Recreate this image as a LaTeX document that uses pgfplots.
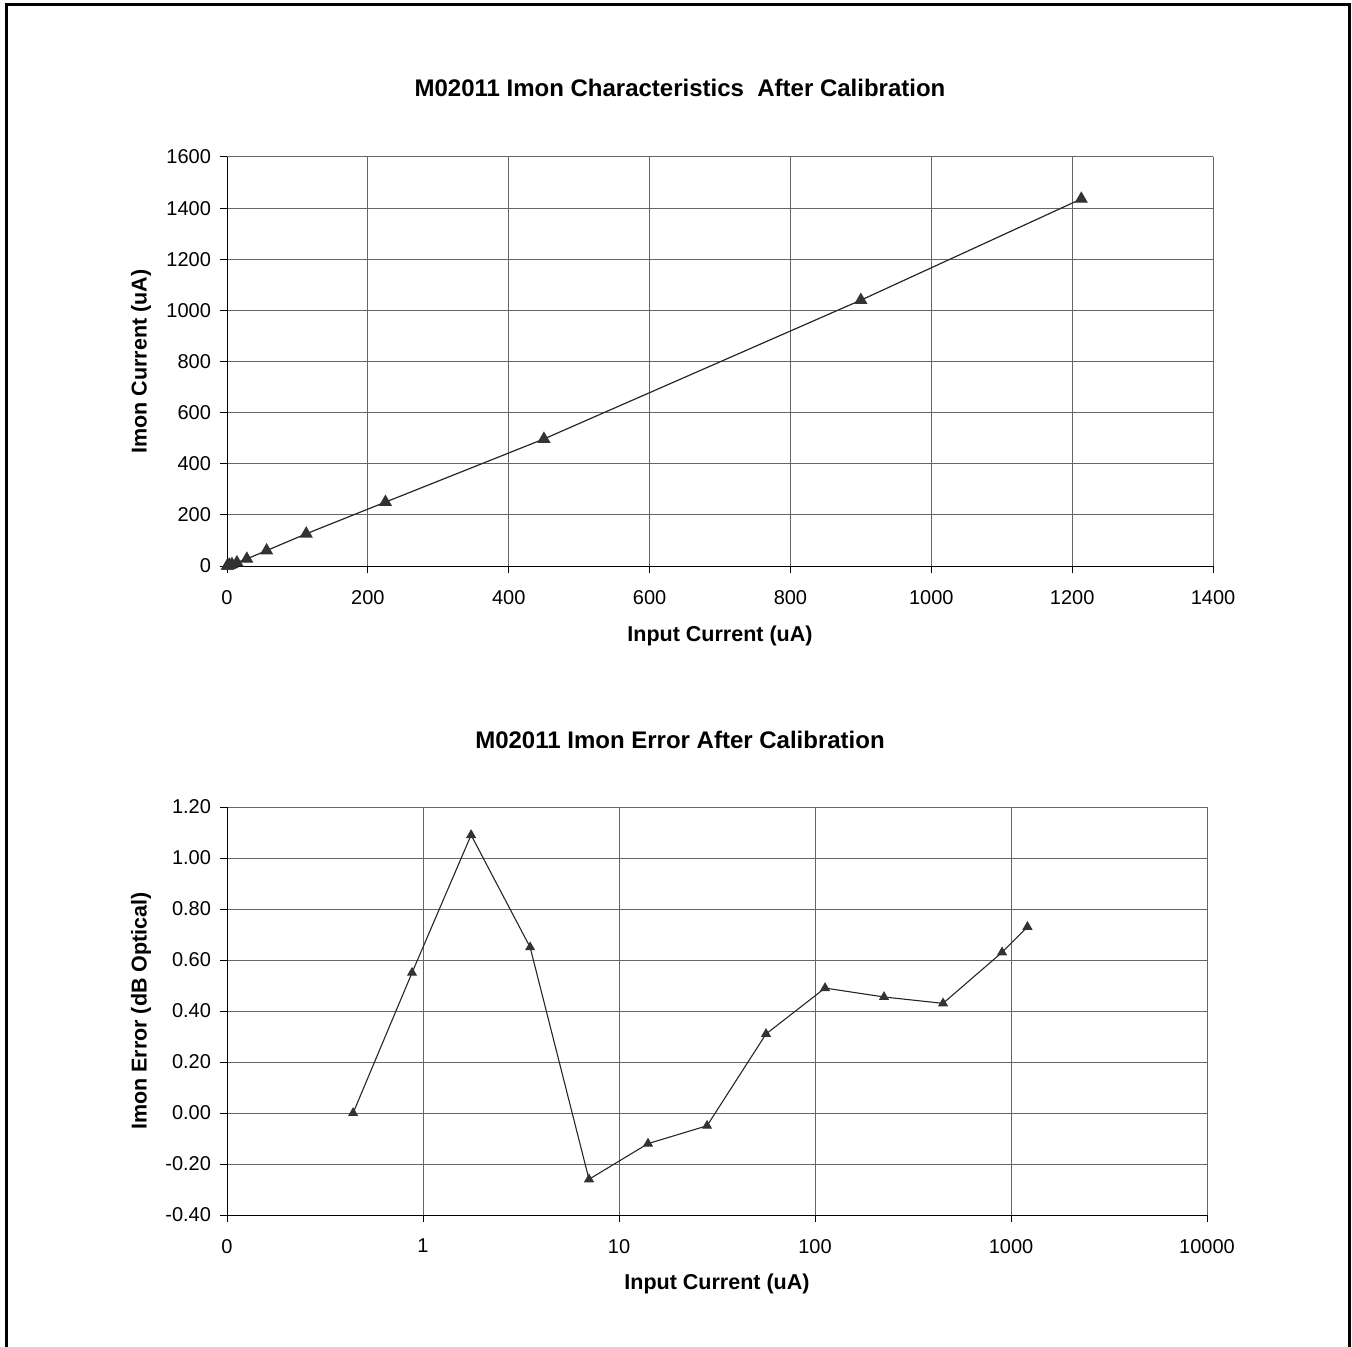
\documentclass[border=0pt]{standalone}
\usepackage{pgfplots}
\pgfplotsset{compat=1.18}
\usepackage{fontspec}
\setmainfont{Liberation Sans}

% values
\pgfplotstableread{
x      imon
0.44   0.44
0.879  1.0
1.76   2.26
3.52   4.08
7.03   6.62
14.06  13.7
28.13  27.8
56.25  60.4
112.5  126
225    250
450    497
900    1040
1213   1436
}\imondata

\pgfplotstableread{
x      err
0.44   0.00
0.879  0.55
1.76   1.09
3.52   0.65
7.03   -0.26
14.06  -0.12
28.13  -0.05
56.25  0.31
112.5  0.49
225    0.455
450    0.43
900    0.63
1213   0.73
}\errdata

\pgfplotsset{
  excel/.style={
    scale only axis,
    axis line style={draw=none},
    grid=major,
    major grid style={black!60, line width=0.5pt},
    tick align=outside,
    tick pos=left,
    major tick length=3.5pt,
    tick style={black, line width=0.5pt},
    /pgf/number format/assume math mode=true,
    /pgf/number format/1000 sep={},
    tick label style={font=\normalsize},
    label style={font=\fontsize{10.75}{13}\selectfont\bfseries},
    yticklabel style={anchor=east, xshift=-1pt},
    xticklabel style={anchor=north, yshift=-5pt},
  },
}

\begin{document}
\begin{tikzpicture}
\useasboundingbox (0,0) rectangle (676pt,673pt);
% outer chart frame (open at the bottom of the page)
\draw[line width=1.5pt] (3pt,-5pt) -- (3pt,670.5pt) -- (674.5pt,670.5pt) -- (674.5pt,-5pt);

\node[font=\fontsize{12}{14}\selectfont\bfseries] at (340pt,629pt) {M02011 Imon Characteristics\ \ After Calibration};
\node[font=\fontsize{12}{14}\selectfont\bfseries] at (340pt,303pt) {M02011 Imon Error After Calibration};

\begin{axis}[excel,
  at={(113.5pt,390pt)}, anchor=south west,
  width=493pt, height=204.5pt,
  xmin=0, xmax=1400, ymin=0, ymax=1600,
  xtick={0,200,...,1400}, ytick={0,200,...,1600},
  xlabel={Input Current (uA)},
  ylabel={Imon Current (uA)},
  x label style={at={(axis description cs:0.5,-0.171)}, anchor=center},
  y label style={at={(axis description cs:-0.0872,0.5)}, anchor=center, rotate=0},
]
\draw[black!60, line width=0.5pt] (rel axis cs:0,1) -- (rel axis cs:1,1) -- (rel axis cs:1,0);
\draw[black, line width=0.5pt] (rel axis cs:0,1) -- (rel axis cs:0,0) -- (rel axis cs:1,0);
\addplot[black!85, line width=0.6pt, mark=triangle*, mark size=3.2pt,
  mark options={fill=black!80, draw=black!80}] table[x=x, y=imon] {\imondata};
\end{axis}

\begin{axis}[excel,
  at={(113.5pt,65.5pt)}, anchor=south west,
  width=490pt, height=204pt,
  xmode=log,
  xmin=0.1, xmax=10000, ymin=-0.4, ymax=1.2,
  xtick={0.1,1,10,100,1000,10000},
  xticklabels={0,1,10,100,1000,10000},
  xminorticks=false,
  ytick={-0.4,-0.2,0,0.2,0.4,0.6,0.8,1.0,1.2},
  yticklabels={-0.40,-0.20,0.00,0.20,0.40,0.60,0.80,1.00,1.20},
  xlabel={Input Current (uA)},
  ylabel={Imon Error (dB Optical)},
  x label style={at={(axis description cs:0.5,-0.169)}, anchor=center},
  y label style={at={(axis description cs:-0.0878,0.5)}, anchor=center, rotate=0},
]
\draw[black!60, line width=0.5pt] (rel axis cs:0,1) -- (rel axis cs:1,1) -- (rel axis cs:1,0);
\draw[black, line width=0.5pt] (rel axis cs:0,1) -- (rel axis cs:0,0) -- (rel axis cs:1,0);
\addplot[black!85, line width=0.55pt, mark=triangle*, mark size=2.4pt,
  mark options={fill=black!80, draw=black!80}] table[x=x, y=err] {\errdata};
\end{axis}
\end{tikzpicture}
\end{document}
